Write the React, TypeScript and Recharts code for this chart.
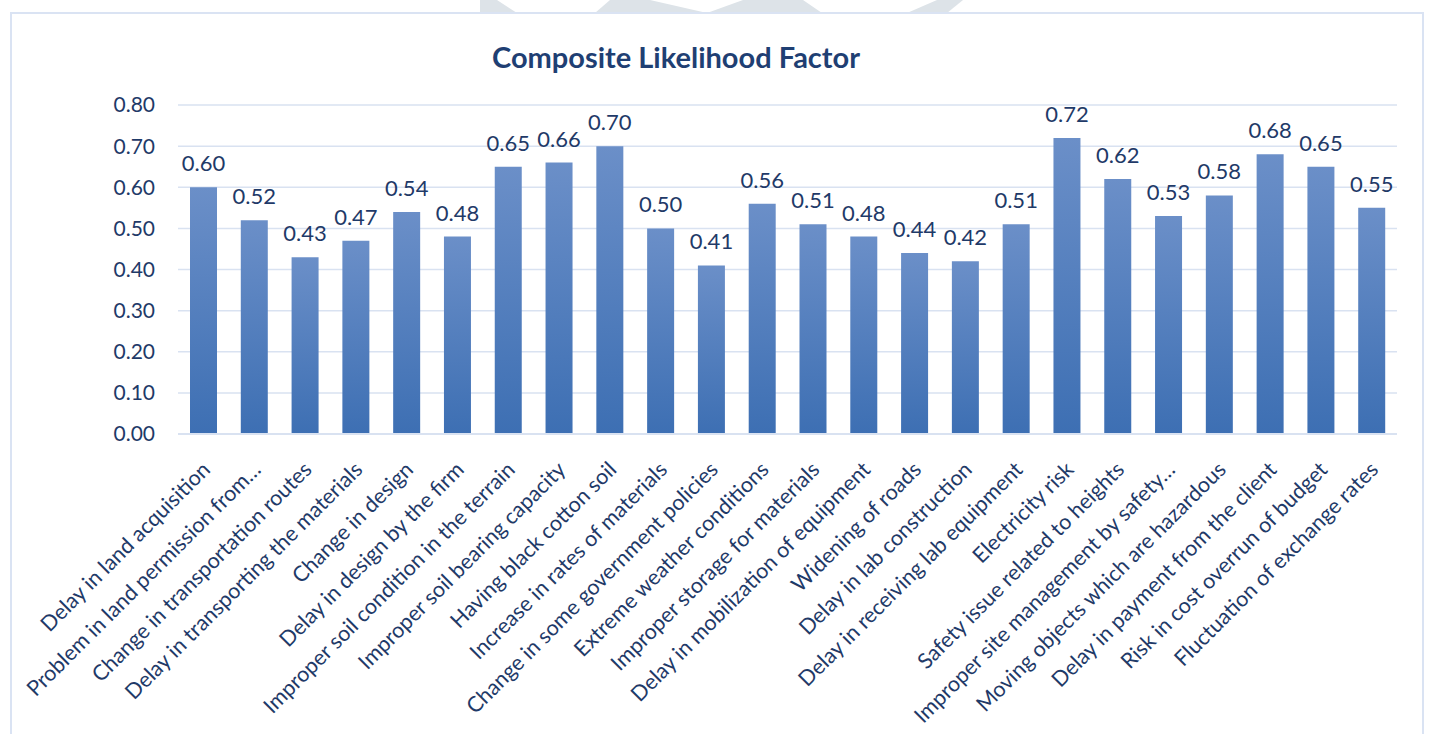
import React from "react";
import { BarChart, Bar, XAxis, YAxis, CartesianGrid, LabelList } from "recharts";

// Risk factors and their composite likelihood scores
const categories: string[] = [
  "Delay in land acquisition",
  "Problem in land permission from…",
  "Change in transportation routes",
  "Delay in transporting the materials",
  "Change in design",
  "Delay in design by the firm",
  "Improper soil condition in the terrain",
  "Improper soil bearing capacity",
  "Having black cotton soil",
  "Increase in rates of materials",
  "Change in some government policies",
  "Extreme weather conditions",
  "Improper storage for materials",
  "Delay in mobilization of equipment",
  "Widening of roads",
  "Delay in lab construction",
  "Delay in receiving lab equipment",
  "Electricity risk",
  "Safety issue related to heights",
  "Improper site management by safety…",
  "Moving objects which are hazardous",
  "Delay in payment from the client",
  "Risk in cost overrun of budget",
  "Fluctuation of exchange rates",
];

const likelihood: number[] = [
  0.6, 0.52, 0.43, 0.47, 0.54, 0.48, 0.65, 0.66, 0.7, 0.5, 0.41, 0.56,
  0.51, 0.48, 0.44, 0.42, 0.51, 0.72, 0.62, 0.53, 0.58, 0.68, 0.65, 0.55,
];

const yTicks: number[] = [0, 0.1, 0.2, 0.3, 0.4, 0.5, 0.6, 0.7, 0.8];

const data = categories.map((name, i) => ({ name, value: likelihood[i] }));

const FONT = "Lato, 'Open Sans', sans-serif";
const TEXT = "#1f3a68";

const XTick = (props: any) => {
  const { x, y, payload } = props;
  return (
    <g transform={`translate(${x + 8},${y + 29}) rotate(-45)`}>
      <text x={0} y={0} textAnchor="end" fill={TEXT} fontSize={21.5} fontFamily={FONT}>
        {payload.value}
      </text>
    </g>
  );
};

export default function App() {
  return (
    <div
      style={{
        position: "absolute",
        left: 0,
        top: 0,
        width: 1432,
        height: 734,
        overflow: "hidden",
        background: "#ffffff",
      }}
    >
      {/* page background decoration and frame */}
      <svg width={1432} height={734} style={{ position: "absolute", left: 0, top: 0 }}>
        <g fill="#dde3e8">
          <polygon points="480,0 497,0 517,13 480,13" />
          <polygon points="595,13 610,0 650,0 707,13" />
          <polygon points="707,13 743,0 803,0 822,13" />
          <polygon points="907,13 937,0 963,0 947,13" />
        </g>
        <rect x={11} y={13} width={1412} height={760} fill="#ffffff" stroke="#dae3f3" strokeWidth={2} />
      </svg>

      <div
        style={{
          position: "absolute",
          left: 0,
          top: 38,
          width: 1352,
          textAlign: "center",
          fontFamily: FONT,
          fontWeight: 700,
          fontSize: 29,
          color: "#1f3f73",
          lineHeight: "38px",
        }}
      >
        Composite Likelihood Factor
      </div>

      <div style={{ position: "absolute", left: 0, top: 0 }}>
        <BarChart
          width={1432}
          height={734}
          data={data}
          margin={{ top: 105, right: 35, bottom: 0, left: 118 }}
        >
          <defs>
            <linearGradient id="barFill" x1="0" y1="0" x2="0" y2="1">
              <stop offset="0%" stopColor="#6b8fc8" />
              <stop offset="100%" stopColor="#3d6fb3" />
            </linearGradient>
          </defs>
          <CartesianGrid vertical={false} stroke="#d9e2f1" strokeWidth={1.5} />
          <XAxis
            dataKey="name"
            interval={0}
            height={300}
            tickLine={false}
            axisLine={{ stroke: "#d9e2f1", strokeWidth: 2 }}
            tick={<XTick />}
          />
          <YAxis
            width={60}
            domain={[0, 0.8]}
            ticks={yTicks}
            tickFormatter={(v: number) => v.toFixed(2)}
            axisLine={false}
            tickLine={false}
            tickMargin={17}
            tick={{ fill: TEXT, fontSize: 21, fontFamily: FONT }}
          />
          <Bar dataKey="value" fill="url(#barFill)" barSize={27} isAnimationActive={false}>
            <LabelList
              dataKey="value"
              position="top"
              offset={16}
              formatter={(v: any) => Number(v).toFixed(2)}
              fill={TEXT}
              fontSize={22}
              fontFamily={FONT}
            />
          </Bar>
        </BarChart>
      </div>
    </div>
  );
}
